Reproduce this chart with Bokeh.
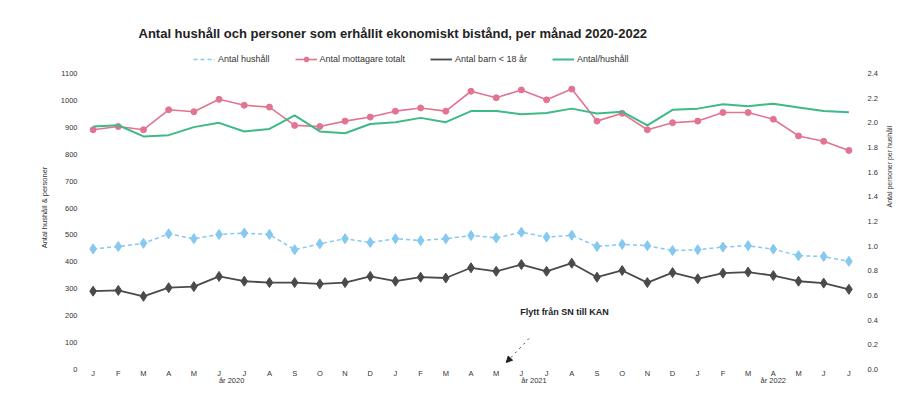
import math
from bokeh.plotting import figure
from bokeh.models import (Range1d, LinearAxis, FixedTicker, NumeralTickFormatter, Legend,
                          LegendItem, Label, Arrow, NormalHead)
from bokeh.embed import file_html
from bokeh.resources import INLINE

# ---- data ----
months = ["J", "F", "M", "A", "M", "J", "J", "A", "S", "O", "N", "D",
          "J", "F", "M", "A", "M", "J", "J", "A", "S", "O", "N", "D",
          "J", "F", "M", "A", "M", "J", "J"]
year_labels = ["år 2020", "år 2021", "år 2022"]
year_pos = [5.5, 17.5, 27.0]

antal_hushall = [448, 457, 469, 504, 486, 502, 507, 502, 445, 467, 486, 472,
                 486, 479, 486, 498, 489, 510, 492, 499, 457, 465, 460, 442,
                 445, 455, 460, 447, 423, 420, 402]
antal_mottagare = [891, 903, 891, 965, 958, 1004, 982, 975, 907, 903, 923, 938,
                   960, 972, 960, 1034, 1010, 1039, 1002, 1042, 923, 952, 891, 917,
                   923, 955, 955, 930, 868, 848, 814]
antal_barn = [291, 294, 272, 304, 308, 346, 328, 323, 323, 318, 323, 346,
              328, 343, 340, 378, 365, 390, 365, 395, 343, 368, 323, 360,
              337, 358, 362, 349, 328, 321, 298]
antal_per_hushall = [1.97, 1.98, 1.89, 1.90, 1.965, 2.00, 1.93, 1.95, 2.06, 1.93, 1.915, 1.99,
                     2.005, 2.04, 2.005, 2.095, 2.095, 2.07, 2.08, 2.115, 2.075, 2.09, 1.98, 2.105,
                     2.115, 2.15, 2.135, 2.155, 2.125, 2.095, 2.085]

left_ticks = [0, 100, 200, 300, 400, 500, 600, 700, 800, 900, 1000, 1100]
right_ticks = [0.0, 0.2, 0.4, 0.6, 0.8, 1.0, 1.2, 1.4, 1.6, 1.8, 2.0, 2.2, 2.4]

x = list(range(len(months)))

FONT = "Liberation Sans"
TXT = "#333333"

# frame spans from y=45 (top, room for legend) to 369; 1100 sits at y=73
LEFT_END = 1204.0
RIGHT_END = 2.4 * LEFT_END / 1100.0

p = figure(width=899, height=387, output_backend="svg", toolbar_location=None,
           x_range=Range1d(-0.5, 30.5), y_range=Range1d(0, LEFT_END),
           min_border_left=80, min_border_right=37, min_border_top=45, min_border_bottom=18)
p.extra_y_ranges = {"right": Range1d(0, RIGHT_END)}
p.xgrid.visible = False
p.ygrid.visible = False
p.outline_line_color = None
p.background_fill_color = "white"
p.border_fill_color = "white"

# title
p.title.text = "Antal hushåll och personer som erhållit ekonomiskt bistånd, per månad 2020-2022"
p.title.align = "left"
p.title.offset = 58
p.title.standoff = 10
p.title.text_font = FONT
p.title.text_font_size = "13px"
p.title.text_font_style = "bold"
p.title.text_color = "#222222"

# x axis: month letters
xa = p.xaxis[0]
xa.ticker = FixedTicker(ticks=x)
xa.major_label_overrides = {i: m for i, m in enumerate(months)}
xa.axis_line_color = None
xa.major_tick_line_color = None
xa.major_tick_out = 0
xa.major_tick_in = 0
xa.minor_tick_line_color = None
xa.major_label_standoff = -1
xa.major_label_text_font = FONT
xa.major_label_text_font_size = "7.5px"
xa.major_label_text_color = TXT

# second x axis: years
xa2 = LinearAxis(ticker=FixedTicker(ticks=year_pos),
                 major_label_overrides={year_pos[i]: year_labels[i] for i in range(3)})
xa2.axis_line_color = None
xa2.major_tick_line_color = None
xa2.major_tick_out = 0
xa2.major_tick_in = 0
xa2.minor_tick_line_color = None
xa2.major_label_standoff = -5
xa2.major_label_text_font = FONT
xa2.major_label_text_font_size = "7.5px"
xa2.major_label_text_color = TXT
p.add_layout(xa2, "below")

# left axis
ya = p.yaxis[0]
ya.ticker = FixedTicker(ticks=left_ticks)
ya.axis_line_color = None
ya.major_tick_line_color = None
ya.major_tick_out = 0
ya.major_tick_in = 0
ya.minor_tick_line_color = None
ya.major_label_standoff = 3
ya.major_label_text_font = FONT
ya.major_label_text_font_size = "7.5px"
ya.major_label_text_color = TXT
ya.axis_label = "Antal hushåll & personer"
ya.axis_label_text_font = FONT
ya.axis_label_text_font_size = "7.5px"
ya.axis_label_text_font_style = "normal"
ya.axis_label_text_color = TXT
ya.axis_label_standoff = 9

# right axis
ra = LinearAxis(y_range_name="right", ticker=FixedTicker(ticks=right_ticks),
                formatter=NumeralTickFormatter(format="0.0"))
ra.axis_line_color = None
ra.major_tick_line_color = None
ra.major_tick_out = 0
ra.major_tick_in = 0
ra.minor_tick_line_color = None
ra.major_label_standoff = 6
ra.major_label_text_font = FONT
ra.major_label_text_font_size = "7.5px"
ra.major_label_text_color = TXT
ra.axis_label = "Antal personer per hushåll"
ra.axis_label_text_font = FONT
ra.axis_label_text_font_size = "7px"
ra.axis_label_text_font_style = "normal"
ra.axis_label_text_color = TXT
ra.axis_label_standoff = 9
try:
    ra.axis_label_orientation = math.pi / 2
except Exception:
    pass
p.add_layout(ra, "right")

# series
r_hush_l = p.line(x, antal_hushall, line_color="#85c8f0", line_width=1.5, line_dash="4 3")
r_hush_m = p.scatter(x, antal_hushall, marker="diamond", size=10, fill_color="#85c8f0",
                     line_color="#85c8f0")
r_mott_l = p.line(x, antal_mottagare, line_color="#e27491", line_width=1.6)
r_mott_m = p.scatter(x, antal_mottagare, marker="circle", size=6, fill_color="#e27491",
                     line_color="#e27491")
r_barn_l = p.line(x, antal_barn, line_color="#4a4a4a", line_width=1.8)
r_barn_m = p.scatter(x, antal_barn, marker="diamond", size=10, fill_color="#4a4a4a",
                     line_color="#4a4a4a")
r_per = p.line(x, antal_per_hushall, y_range_name="right", line_color="#3dba86", line_width=2)

legend = Legend(items=[
    LegendItem(label="Antal hushåll", renderers=[r_hush_l]),
    LegendItem(label="Antal mottagare totalt", renderers=[r_mott_l, r_mott_m]),
    LegendItem(label="Antal barn < 18 år", renderers=[r_barn_l]),
    LegendItem(label="Antal/hushåll", renderers=[r_per]),
], orientation="horizontal", location=(113, 304), padding=1, margin=0, spacing=25,
    label_standoff=3, glyph_width=22, glyph_height=12, label_height=12,
    label_text_font=FONT, label_text_font_size="9px", label_text_color=TXT,
    border_line_color=None, background_fill_alpha=0)
p.add_layout(legend, "center")

# annotation
p.add_layout(Label(x=16.95, y=212, text="Flytt från SN till KAN", text_font=FONT,
                   text_font_size="9px", text_font_style="bold", text_color="#222222",
                   text_align="left", text_baseline="middle"))
p.add_layout(Arrow(x_start=17.3, y_start=115, x_end=16.4, y_end=26,
                   line_color="#444444", line_width=1, line_dash="dotted",
                   end=NormalHead(size=6, fill_color="#222222", line_color="#222222")))

open("out.html", "w").write(file_html(p, INLINE))
